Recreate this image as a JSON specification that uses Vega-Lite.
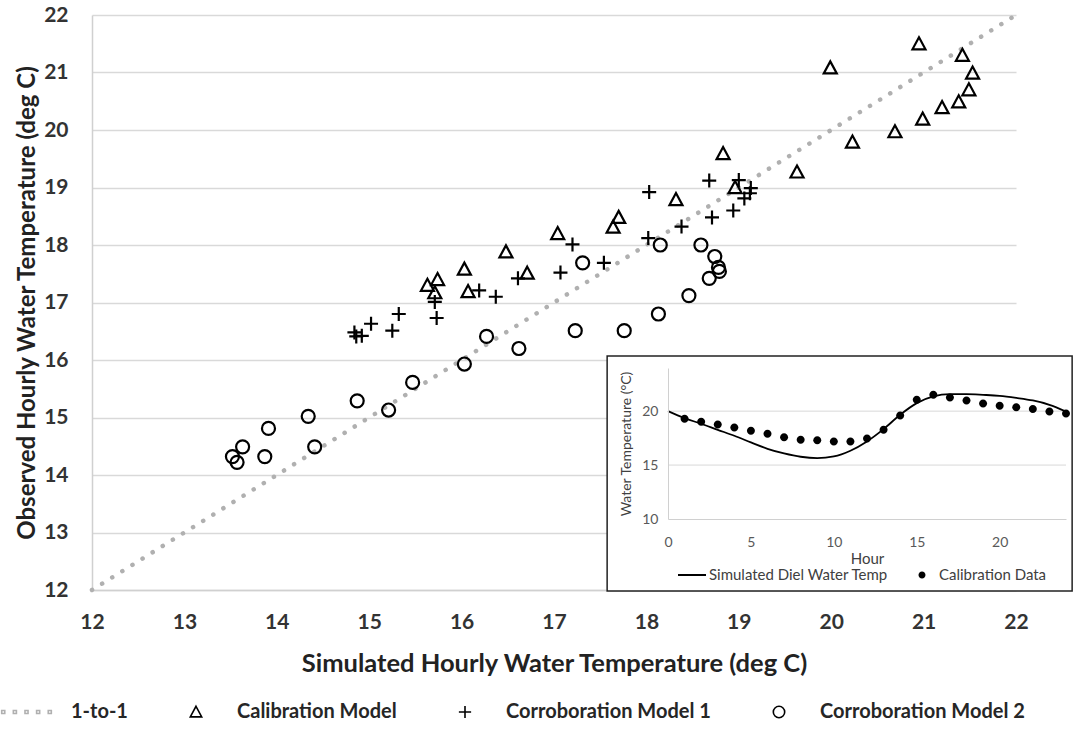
{
  "$schema": "https://vega.github.io/schema/vega-lite/v6.json",
  "width": 924,
  "height": 575,
  "autosize": {"type": "none"},
  "padding": {"left": 92, "top": 15, "right": 58, "bottom": 141},
  "background": "white",
  "config": {"view": {"stroke": null}},
  "datasets": {
    "oneToOne": [{"sim": 12, "obs": 12}, {"sim": 22, "obs": 22}],
    "points": [
      {"model": "Calibration Model", "sim": 19.99, "obs": 21.08},
      {"model": "Calibration Model", "sim": 20.95, "obs": 21.5},
      {"model": "Calibration Model", "sim": 21.42, "obs": 21.3},
      {"model": "Calibration Model", "sim": 21.53, "obs": 20.99},
      {"model": "Calibration Model", "sim": 21.49, "obs": 20.7},
      {"model": "Calibration Model", "sim": 21.38, "obs": 20.49},
      {"model": "Calibration Model", "sim": 21.2, "obs": 20.39},
      {"model": "Calibration Model", "sim": 20.99, "obs": 20.19},
      {"model": "Calibration Model", "sim": 20.69, "obs": 19.97},
      {"model": "Calibration Model", "sim": 20.23, "obs": 19.79},
      {"model": "Calibration Model", "sim": 19.63, "obs": 19.27},
      {"model": "Calibration Model", "sim": 18.83, "obs": 19.59},
      {"model": "Calibration Model", "sim": 18.32, "obs": 18.79},
      {"model": "Calibration Model", "sim": 18.96, "obs": 19.0},
      {"model": "Calibration Model", "sim": 17.7, "obs": 18.48},
      {"model": "Calibration Model", "sim": 17.64, "obs": 18.31},
      {"model": "Calibration Model", "sim": 17.04, "obs": 18.2},
      {"model": "Calibration Model", "sim": 16.48, "obs": 17.88},
      {"model": "Calibration Model", "sim": 16.71, "obs": 17.51},
      {"model": "Calibration Model", "sim": 16.03, "obs": 17.58},
      {"model": "Calibration Model", "sim": 16.07, "obs": 17.19},
      {"model": "Calibration Model", "sim": 15.74, "obs": 17.4},
      {"model": "Calibration Model", "sim": 15.63, "obs": 17.3},
      {"model": "Calibration Model", "sim": 15.71, "obs": 17.17},
      {"model": "Corroboration Model 1", "sim": 14.84, "obs": 16.48},
      {"model": "Corroboration Model 1", "sim": 14.92, "obs": 16.42},
      {"model": "Corroboration Model 1", "sim": 14.86, "obs": 16.41},
      {"model": "Corroboration Model 1", "sim": 15.02, "obs": 16.63},
      {"model": "Corroboration Model 1", "sim": 15.25, "obs": 16.51},
      {"model": "Corroboration Model 1", "sim": 15.32, "obs": 16.8},
      {"model": "Corroboration Model 1", "sim": 15.73, "obs": 16.73},
      {"model": "Corroboration Model 1", "sim": 15.71, "obs": 17.01},
      {"model": "Corroboration Model 1", "sim": 16.19, "obs": 17.21},
      {"model": "Corroboration Model 1", "sim": 16.37, "obs": 17.1},
      {"model": "Corroboration Model 1", "sim": 16.61, "obs": 17.42},
      {"model": "Corroboration Model 1", "sim": 17.07, "obs": 17.52},
      {"model": "Corroboration Model 1", "sim": 17.2, "obs": 18.01},
      {"model": "Corroboration Model 1", "sim": 17.54, "obs": 17.69},
      {"model": "Corroboration Model 1", "sim": 18.02, "obs": 18.12},
      {"model": "Corroboration Model 1", "sim": 18.03, "obs": 18.92},
      {"model": "Corroboration Model 1", "sim": 18.38, "obs": 18.32},
      {"model": "Corroboration Model 1", "sim": 18.71, "obs": 18.48},
      {"model": "Corroboration Model 1", "sim": 18.68, "obs": 19.12},
      {"model": "Corroboration Model 1", "sim": 18.94, "obs": 18.6},
      {"model": "Corroboration Model 1", "sim": 19.0, "obs": 19.13},
      {"model": "Corroboration Model 1", "sim": 19.06, "obs": 18.81},
      {"model": "Corroboration Model 1", "sim": 19.13, "obs": 18.99},
      {"model": "Corroboration Model 1", "sim": 19.12, "obs": 18.9},
      {"model": "Corroboration Model 2", "sim": 13.52, "obs": 14.32},
      {"model": "Corroboration Model 2", "sim": 13.57, "obs": 14.22},
      {"model": "Corroboration Model 2", "sim": 13.63, "obs": 14.49},
      {"model": "Corroboration Model 2", "sim": 13.87, "obs": 14.32},
      {"model": "Corroboration Model 2", "sim": 13.91, "obs": 14.81},
      {"model": "Corroboration Model 2", "sim": 14.34, "obs": 15.02},
      {"model": "Corroboration Model 2", "sim": 14.41, "obs": 14.49},
      {"model": "Corroboration Model 2", "sim": 14.87, "obs": 15.29},
      {"model": "Corroboration Model 2", "sim": 15.21, "obs": 15.13},
      {"model": "Corroboration Model 2", "sim": 15.47, "obs": 15.61},
      {"model": "Corroboration Model 2", "sim": 16.03, "obs": 15.93},
      {"model": "Corroboration Model 2", "sim": 16.27, "obs": 16.41},
      {"model": "Corroboration Model 2", "sim": 16.62, "obs": 16.2},
      {"model": "Corroboration Model 2", "sim": 17.23, "obs": 16.51},
      {"model": "Corroboration Model 2", "sim": 17.76, "obs": 16.51},
      {"model": "Corroboration Model 2", "sim": 18.13, "obs": 16.8},
      {"model": "Corroboration Model 2", "sim": 17.31, "obs": 17.69},
      {"model": "Corroboration Model 2", "sim": 18.15, "obs": 18.0},
      {"model": "Corroboration Model 2", "sim": 18.59, "obs": 18.0},
      {"model": "Corroboration Model 2", "sim": 18.74, "obs": 17.8},
      {"model": "Corroboration Model 2", "sim": 18.78, "obs": 17.61},
      {"model": "Corroboration Model 2", "sim": 18.79, "obs": 17.54},
      {"model": "Corroboration Model 2", "sim": 18.68, "obs": 17.42},
      {"model": "Corroboration Model 2", "sim": 18.46, "obs": 17.12}
    ],
    "diel": [
      {"hour": 0, "sim": 20.0}, {"hour": 1, "sim": 19.35}, {"hour": 2, "sim": 18.83},
      {"hour": 3, "sim": 18.27}, {"hour": 4, "sim": 17.72}, {"hour": 5, "sim": 17.1},
      {"hour": 6, "sim": 16.51}, {"hour": 7, "sim": 16.08}, {"hour": 8, "sim": 15.77},
      {"hour": 9, "sim": 15.65}, {"hour": 10, "sim": 15.8}, {"hour": 11, "sim": 16.33},
      {"hour": 12, "sim": 17.19}, {"hour": 13, "sim": 18.33}, {"hour": 14, "sim": 19.66},
      {"hour": 15, "sim": 20.74}, {"hour": 16, "sim": 21.36}, {"hour": 17, "sim": 21.57},
      {"hour": 18, "sim": 21.57}, {"hour": 19, "sim": 21.51}, {"hour": 20, "sim": 21.42},
      {"hour": 21, "sim": 21.23}, {"hour": 22, "sim": 20.99}, {"hour": 23, "sim": 20.59},
      {"hour": 24, "sim": 19.97}
    ],
    "calib": [
      {"series": "Calibration Data", "hour": 1, "temp": 19.29},
      {"series": "Calibration Data", "hour": 2, "temp": 19.01},
      {"series": "Calibration Data", "hour": 3, "temp": 18.77},
      {"series": "Calibration Data", "hour": 4, "temp": 18.49},
      {"series": "Calibration Data", "hour": 5, "temp": 18.18},
      {"series": "Calibration Data", "hour": 6, "temp": 17.9},
      {"series": "Calibration Data", "hour": 7, "temp": 17.59},
      {"series": "Calibration Data", "hour": 8, "temp": 17.35},
      {"series": "Calibration Data", "hour": 9, "temp": 17.31},
      {"series": "Calibration Data", "hour": 10, "temp": 17.19},
      {"series": "Calibration Data", "hour": 11, "temp": 17.19},
      {"series": "Calibration Data", "hour": 12, "temp": 17.47},
      {"series": "Calibration Data", "hour": 13, "temp": 18.27},
      {"series": "Calibration Data", "hour": 14, "temp": 19.6},
      {"series": "Calibration Data", "hour": 15, "temp": 21.05},
      {"series": "Calibration Data", "hour": 16, "temp": 21.51},
      {"series": "Calibration Data", "hour": 17, "temp": 21.27},
      {"series": "Calibration Data", "hour": 18, "temp": 20.99},
      {"series": "Calibration Data", "hour": 19, "temp": 20.71},
      {"series": "Calibration Data", "hour": 20, "temp": 20.49},
      {"series": "Calibration Data", "hour": 21, "temp": 20.37},
      {"series": "Calibration Data", "hour": 22, "temp": 20.19},
      {"series": "Calibration Data", "hour": 23, "temp": 19.97},
      {"series": "Calibration Data", "hour": 24, "temp": 19.78}
    ],
    "insetGrid": [{"g": 15}, {"g": 20}],
    "box": [{"box": "inset"}]
  },
  "layer": [
    {
      "layer": [
        {
          "data": {"name": "oneToOne"},
          "mark": {"type": "line", "color": "#b0b0b0", "strokeWidth": 4.5, "strokeCap": "round", "strokeDash": [0.1, 11.8]},
          "encoding": {
            "x": {"field": "sim", "type": "quantitative",
              "scale": {"domain": [12, 22], "nice": false, "zero": false},
              "axis": {"title": "Simulated Hourly Water Temperature (deg C)", "values": [12,13,14,15,16,17,18,19,20,21,22], "format": "d",
                "grid": false, "ticks": false, "domain": true, "domainColor": "#d0d0d0", "domainWidth": 1.5, "labelFlush": false,
                "labelFont": "Lato", "labelFontWeight": "bold", "labelFontSize": 21, "labelColor": "#333333", "labelPadding": 21,
                "titleFont": "Lato", "titleFontWeight": "bold", "titleFontSize": 25.5, "titleColor": "#222222", "titlePadding": 19}},
            "y": {"field": "obs", "type": "quantitative",
              "scale": {"domain": [12, 22], "nice": false, "zero": false},
              "axis": {"title": "Observed Hourly Water Temperature (deg C)", "values": [12,13,14,15,16,17,18,19,20,21,22], "format": "d",
                "grid": true, "gridColor": "#d9d9d9", "gridWidth": 1.5, "ticks": false, "domain": true, "domainColor": "#d0d0d0", "domainWidth": 1.5, "labelFlush": false,
                "labelFont": "Lato", "labelFontWeight": "bold", "labelFontSize": 21, "labelColor": "#333333", "labelPadding": 24,
                "titleFont": "Lato", "titleFontWeight": "bold", "titleFontSize": 24, "titleColor": "#222222", "titlePadding": 4}}
          }
        },
        {
          "data": {"name": "points"},
          "mark": {"type": "point", "filled": false, "strokeWidth": 2.2, "size": 196, "opacity": 1},
          "encoding": {
            "x": {"field": "sim", "type": "quantitative", "scale": {"domain": [12, 22], "nice": false, "zero": false}},
            "y": {"field": "obs", "type": "quantitative", "scale": {"domain": [12, 22], "nice": false, "zero": false}},
            "shape": {"field": "model", "type": "nominal",
              "scale": {"domain": ["1-to-1", "Calibration Model", "Corroboration Model 1", "Corroboration Model 2"],
                "range": [
                  "M-6.52,-0.25h0.5v0.5h-0.5zM-4.62,-0.25h0.5v0.5h-0.5zM-2.72,-0.25h0.5v0.5h-0.5zM-0.82,-0.25h0.5v0.5h-0.5zM1.08,-0.25h0.5v0.5h-0.5zM2.98,-0.25h0.5v0.5h-0.5z",
                  "M0,-0.93L0.93,0.79L-0.93,0.79Z",
                  "M-1,0H1M0,-1V1",
                  "M0.93,0A0.93,0.93,0,1,1,-0.93,0A0.93,0.93,0,1,1,0.93,0Z"
                ]},
              "legend": {"title": null, "orient": "none", "direction": "horizontal", "legendX": -72, "legendY": 687,
                "padding": 0, "symbolSize": 150, "symbolStrokeWidth": 1.6, "labelOffset": 31, "columnPadding": 58, "labelLimit": 500,
                "labelFont": "Lato", "labelFontWeight": "bold", "labelFontSize": 20, "labelColor": "#262626"}},
            "stroke": {"field": "model", "type": "nominal",
              "scale": {"domain": ["1-to-1", "Calibration Model", "Corroboration Model 1", "Corroboration Model 2"],
                "range": ["#b0b0b0", "black", "black", "black"]},
              "legend": {"title": null, "orient": "none", "direction": "horizontal", "legendX": -72, "legendY": 687,
                "padding": 0, "symbolSize": 150, "symbolStrokeWidth": 1.6, "labelOffset": 31, "columnPadding": 58, "labelLimit": 500,
                "labelFont": "Lato", "labelFontWeight": "bold", "labelFontSize": 20, "labelColor": "#262626"}}
          }
        }
      ]
    },
    {
      "layer": [
        {
          "data": {"name": "box"},
          "mark": {"type": "rect", "fill": "white", "stroke": "#222222", "strokeWidth": 1.5},
          "encoding": {
            "x": {"datum": -3.67, "type": "quantitative", "scale": {"domain": [0, 24], "range": [576, 974], "nice": false, "zero": false},
              "axis": {"orient": "bottom", "offset": -71, "zindex": 2, "title": "Hour", "values": [0, 5, 10, 15, 20], "grid": false, "ticks": false,
                "domain": true, "domainColor": "#d0d0d0", "domainWidth": 1, "labelFlush": false,
                "labelFont": "Lato", "labelFontSize": 14, "labelColor": "#595959", "labelPadding": 16,
                "titleFont": "Lato", "titleFontWeight": "normal", "titleFontSize": 15, "titleColor": "#404040", "titlePadding": 2}},
            "x2": {"datum": 24.37},
            "y": {"datum": 25.11, "type": "quantitative", "scale": {"domain": [10, 24], "range": [504, 353], "nice": false, "zero": false},
              "axis": {"orient": "left", "offset": -576, "zindex": 2, "title": "Water Temperature (°C)", "values": [10, 15, 20], "grid": false, "ticks": false,
                "domain": true, "domainColor": "#d0d0d0", "domainWidth": 1, "labelFlush": false,
                "labelFont": "Lato", "labelFontSize": 14, "labelColor": "#595959", "labelPadding": 10,
                "titleFont": "Lato", "titleFontWeight": "normal", "titleFontSize": 14, "titleColor": "#404040", "titlePadding": 8}},
            "y2": {"datum": 3.32}
          }
        },
        {
          "data": {"name": "insetGrid"},
          "mark": {"type": "rule", "color": "#d9d9d9", "strokeWidth": 1},
          "encoding": {
            "x": {"datum": 0, "type": "quantitative", "scale": {"domain": [0, 24], "range": [576, 974], "nice": false, "zero": false}},
            "x2": {"datum": 24},
            "y": {"field": "g", "type": "quantitative", "scale": {"domain": [10, 24], "range": [504, 353], "nice": false, "zero": false}}
          }
        },
        {
          "data": {"name": "diel"},
          "mark": {"type": "line", "color": "black", "strokeWidth": 1.8, "interpolate": "monotone"},
          "encoding": {
            "x": {"field": "hour", "type": "quantitative", "scale": {"domain": [0, 24], "range": [576, 974], "nice": false, "zero": false}},
            "y": {"field": "sim", "type": "quantitative", "scale": {"domain": [10, 24], "range": [504, 353], "nice": false, "zero": false}}
          }
        },
        {
          "data": {"name": "calib"},
          "mark": {"type": "point", "filled": true, "size": 1024, "opacity": 1},
          "encoding": {
            "x": {"field": "hour", "type": "quantitative", "scale": {"domain": [0, 24], "range": [576, 974], "nice": false, "zero": false}},
            "y": {"field": "temp", "type": "quantitative", "scale": {"domain": [10, 24], "range": [504, 353], "nice": false, "zero": false}},
            "shape": {"field": "series", "type": "nominal",
              "scale": {"domain": ["Simulated Diel Water Temp", "Calibration Data"],
                "range": ["M-1,-0.07H1V0.07H-1Z", "M0.25,0A0.25,0.25,0,1,1,-0.25,0A0.25,0.25,0,1,1,0.25,0Z"]},
              "legend": {"title": null, "orient": "none", "direction": "horizontal", "legendX": 585, "legendY": 545,
                "padding": 0, "symbolSize": 784, "labelOffset": 2, "columnPadding": 18, "labelLimit": 400,
                "labelFont": "Lato", "labelFontSize": 15, "labelColor": "#404040"}},
            "color": {"field": "series", "type": "nominal",
              "scale": {"domain": ["Simulated Diel Water Temp", "Calibration Data"], "range": ["black", "black"]},
              "legend": {"title": null, "orient": "none", "direction": "horizontal", "legendX": 585, "legendY": 545,
                "padding": 0, "symbolSize": 784, "labelOffset": 2, "columnPadding": 18, "labelLimit": 400,
                "labelFont": "Lato", "labelFontSize": 15, "labelColor": "#404040"}}
          }
        }
      ]
    }
  ],
  "resolve": {
    "scale": {"x": "independent", "y": "independent", "shape": "independent", "color": "independent", "stroke": "independent"},
    "axis": {"x": "independent", "y": "independent"},
    "legend": {"shape": "independent", "color": "independent", "stroke": "independent"}
  }
}
